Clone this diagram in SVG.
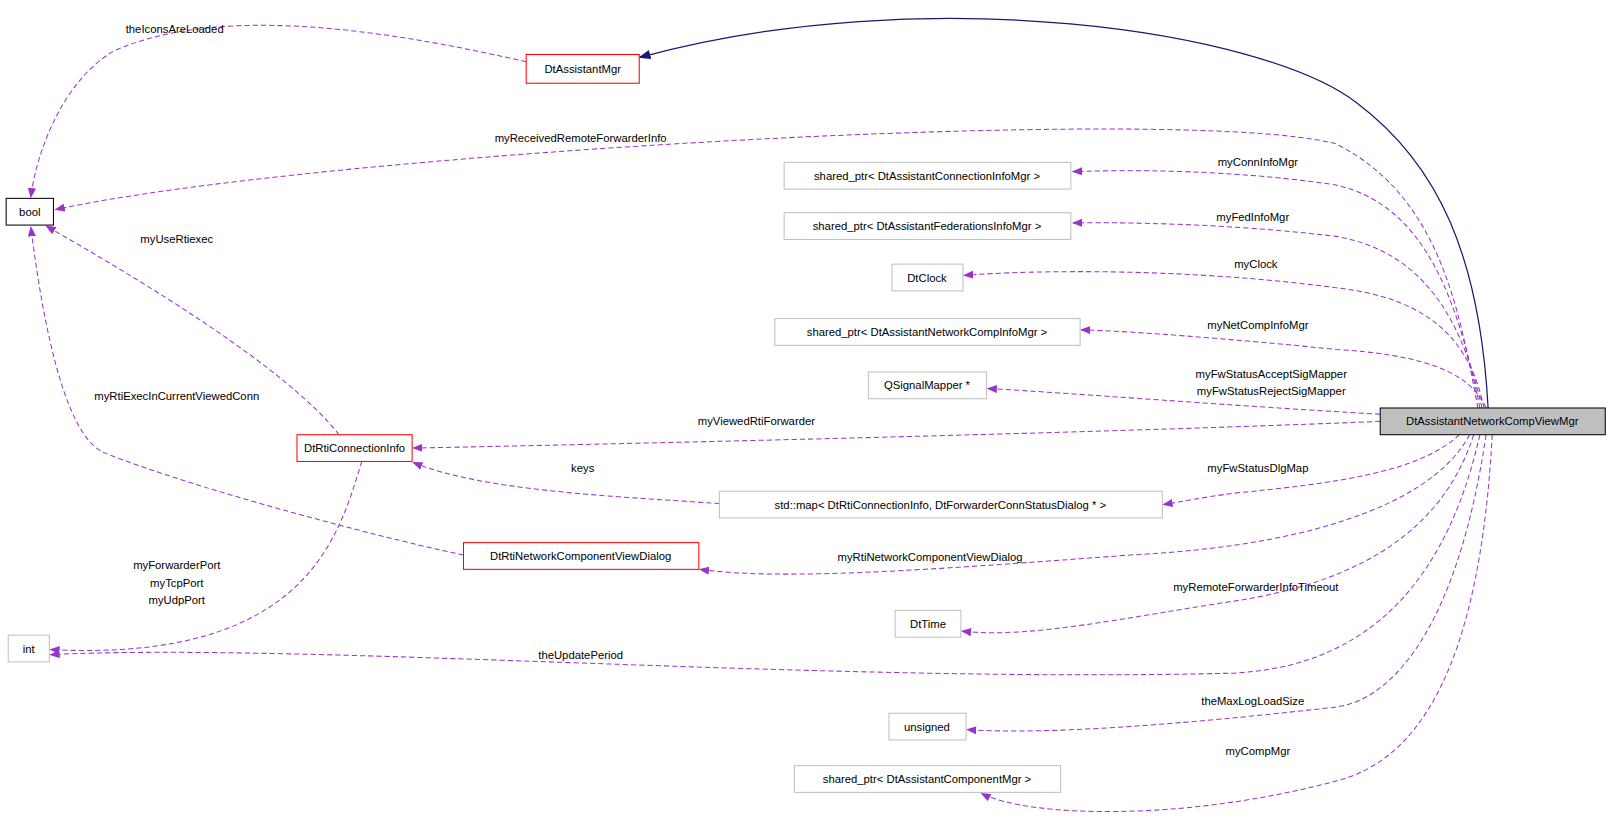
<svg xmlns="http://www.w3.org/2000/svg" width="1611" height="822" viewBox="0 0 1611 822">
<style>
text{font-family:"Liberation Sans",Arial,sans-serif;font-size:11px;fill:#000}
.n rect{fill:#fff;stroke:#bfbfbf;stroke-width:1}
.r rect{stroke:#f00}
.b rect{stroke:#000}
.e path{fill:none;stroke:#9a32cd;stroke-dasharray:5,3;marker-end:url(#ap)}
.m{text-anchor:middle}
</style>
<defs>
<marker id="ap" markerWidth="10" markerHeight="8" refX="9" refY="4" orient="auto" markerUnits="userSpaceOnUse"><path d="M0,0L10,4L0,8z" fill="#9a32cd"/></marker>
<marker id="an" markerWidth="12" markerHeight="9" refX="11" refY="4.5" orient="auto" markerUnits="userSpaceOnUse"><path d="M0,0L12,4.5L0,9z" fill="#191970"/></marker>
</defs>
<g transform="scale(1.0277)">
<g id="edges">
<path d="M1448,397 C1440,250 1400,160 1320,100 C1230,30 900,-20 622,56" fill="none" stroke="#191970" stroke-width="1.2" marker-end="url(#an)"/>
<g class="e">
<path d="M512,60 C400,35 220,0 110,50 C60,80 35,150 30,192"/>
<path d="M1438,397 C1420,300 1400,190 1300,140 C1150,100 300,150 54,204"/>
<path d="M1440,397 C1420,300 1390,200 1300,180 C1200,165 1100,165 1044,167"/>
<path d="M1442,397 C1425,320 1390,245 1300,230 C1200,218 1100,216 1044,217"/>
<path d="M1444,397 C1430,330 1390,290 1300,280 C1150,260 1000,263 938,268"/>
<path d="M1446,397 C1430,360 1380,345 1300,340 C1200,330 1100,322 1052,321"/>
<path d="M1343,403 C1200,395 1050,383 961,378"/>
<path d="M1343,410 C1100,420 700,430 402,436"/>
<path d="M1420,423 C1380,460 1300,470 1200,480 C1170,484 1150,488 1132,491"/>
<path d="M700,490 C600,483 470,478 402,450"/>
<path d="M330,423 C280,360 150,280 45,220"/>
<path d="M451,540 C400,530 200,480 100,440 C60,420 40,300 30,221"/>
<path d="M352,449 C330,520 300,645 49,632"/>
<path d="M1430,423 C1400,480 1300,530 1100,540 C900,555 760,565 681,554"/>
<path d="M1434,423 C1400,530 1300,570 1200,585 C1100,600 1000,622 936,614"/>
<path d="M1440,423 C1400,600 1300,650 1200,655 C800,665 300,625 49,637"/>
<path d="M1446,423 C1420,600 1360,680 1300,688 C1150,705 1020,715 941,710"/>
<path d="M1452,423 C1440,650 1380,740 1300,760 C1150,800 1000,795 955,772"/>
</g>
<text x="170" y="32" class="m">theIconsAreLoaded</text>
<text x="565" y="138" class="m">myReceivedRemoteForwarderInfo</text>
<text x="1224" y="162" class="m">myConnInfoMgr</text>
<text x="1219" y="215" class="m">myFedInfoMgr</text>
<text x="1222" y="261" class="m">myClock</text>
<text x="1224" y="320" class="m">myNetCompInfoMgr</text>
<text x="1237" y="368" class="m">myFwStatusAcceptSigMapper</text>
<text x="1237" y="384" class="m">myFwStatusRejectSigMapper</text>
<text x="736" y="414" class="m">myViewedRtiForwarder</text>
<text x="1224" y="459" class="m">myFwStatusDlgMap</text>
<text x="567" y="459" class="m">keys</text>
<text x="172" y="236" class="m">myUseRtiexec</text>
<text x="172" y="389" class="m">myRtiExecInCurrentViewedConn</text>
<text x="172" y="554" class="m">myForwarderPort</text>
<text x="172" y="571" class="m">myTcpPort</text>
<text x="172" y="588" class="m">myUdpPort</text>
<text x="905" y="546" class="m">myRtiNetworkComponentViewDialog</text>
<text x="1222" y="575" class="m">myRemoteForwarderInfoTimeout</text>
<text x="565" y="641" class="m">theUpdatePeriod</text>
<text x="1219" y="686" class="m">theMaxLogLoadSize</text>
<text x="1224" y="735" class="m">myCompMgr</text>
</g>
<g id="DtAssistantMgr" class="n r"><rect x="512" y="53" width="110" height="28"/><text x="567" y="71" class="m">DtAssistantMgr</text></g>
<g id="bool" class="n b"><rect x="6" y="193" width="46" height="26"/><text x="29" y="210" class="m">bool</text></g>
<g id="connInfo" class="n"><rect x="763" y="158" width="279" height="26"/><text x="902" y="175" class="m">shared_ptr&lt; DtAssistantConnectionInfoMgr &gt;</text></g>
<g id="fedInfo" class="n"><rect x="763" y="207" width="279" height="26"/><text x="902" y="224" class="m">shared_ptr&lt; DtAssistantFederationsInfoMgr &gt;</text></g>
<g id="DtClock" class="n"><rect x="868" y="257" width="69" height="26"/><text x="902" y="274" class="m">DtClock</text></g>
<g id="netComp" class="n"><rect x="754" y="310" width="297" height="26"/><text x="902" y="327" class="m">shared_ptr&lt; DtAssistantNetworkCompInfoMgr &gt;</text></g>
<g id="QSignalMapper" class="n"><rect x="845" y="362" width="115" height="26"/><text x="902" y="379" class="m">QSignalMapper *</text></g>
<g id="main" class="n b"><rect x="1343" y="397" width="219" height="26" style="fill:#bfbfbf"/><text x="1452" y="414" class="m">DtAssistantNetworkCompViewMgr</text></g>
<g id="DtRtiConnectionInfo" class="n r"><rect x="289" y="423" width="112" height="26"/><text x="345" y="440" class="m">DtRtiConnectionInfo</text></g>
<g id="stdmap" class="n"><rect x="700" y="478" width="431" height="26"/><text x="915" y="495" class="m">std::map&lt; DtRtiConnectionInfo, DtForwarderConnStatusDialog * &gt;</text></g>
<g id="dialog" class="n r"><rect x="451" y="528" width="229" height="26"/><text x="565" y="545" class="m">DtRtiNetworkComponentViewDialog</text></g>
<g id="int" class="n"><rect x="8" y="618" width="40" height="26"/><text x="28" y="635" class="m">int</text></g>
<g id="DtTime" class="n"><rect x="871" y="594" width="64" height="26"/><text x="903" y="611" class="m">DtTime</text></g>
<g id="unsigned" class="n"><rect x="865" y="694" width="75" height="26"/><text x="902" y="711" class="m">unsigned</text></g>
<g id="compMgr" class="n"><rect x="773" y="745" width="259" height="26"/><text x="902" y="762" class="m">shared_ptr&lt; DtAssistantComponentMgr &gt;</text></g>
</g>
</svg>
